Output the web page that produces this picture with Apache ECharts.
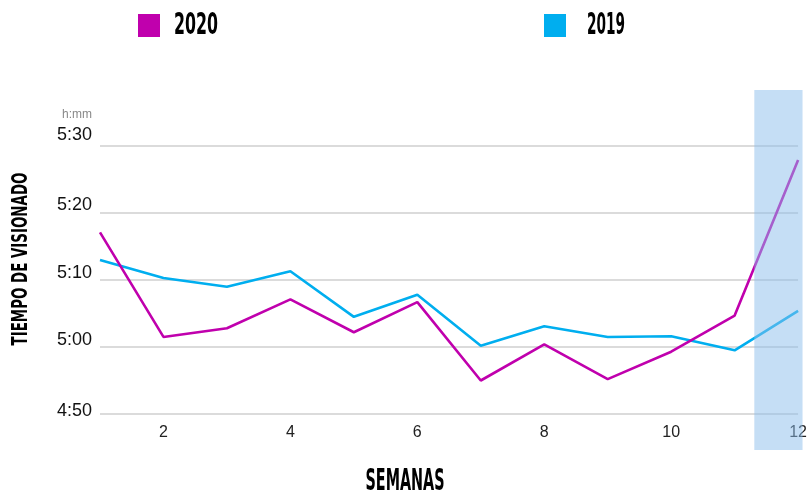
<!DOCTYPE html>
<html>
<head>
<meta charset="utf-8">
<script src="https://cdn.jsdelivr.net/npm/echarts@6/dist/echarts.min.js"></script>
<style>
  html, body { margin: 0; padding: 0; background: #fff; }
  #chart { width: 810px; height: 494px; }
</style>
</head>
<body>
<div id="chart"></div>
<script>
// ---- data ----
const weeks = [1, 2, 3, 4, 5, 6, 7, 8, 9, 10, 11, 12];
// viewing time in minutes (h:mm)
const series2020 = [317.1, 301.5, 302.8, 307.1, 302.2, 306.7, 295.0, 300.4, 295.2, 299.3, 304.7, 327.9];
const series2019 = [313.0, 310.3, 309.0, 311.3, 304.5, 307.8, 300.2, 303.1, 301.5, 301.6, 299.5, 305.4];
const seriesNames = ['2020', '2019'];
const yTicks = [290, 300, 310, 320, 330];
const highlightWeeks = [11.31, 12.07];
const xTitle = 'SEMANAS';
const yTitle = 'TIEMPO DE VISIONADO';
const yUnit = 'h:mm';

// ---- styles ----
const COND = "'Liberation Sans Narrow', 'DejaVu Sans Condensed', sans-serif";
const REG = "'Liberation Sans', Arial, sans-serif";
const C2020 = '#c000ad';
const C2019 = '#00aeef';

function fmt(v) {
  const h = Math.floor(v / 60), m = Math.round(v % 60);
  return h + ':' + (m < 10 ? '0' + m : m);
}
function measure(text, size) {
  const c = document.createElement('canvas').getContext('2d');
  c.font = 'bold ' + size + 'px ' + COND;
  return c.measureText(text).width;
}
// label lift per tick (labels sit slightly above their grid lines)
const lift = {290: 6, 300: 14, 310: 14, 320: 16, 330: 22};

const chart = echarts.init(document.getElementById('chart'), null, {renderer: 'canvas'});
const yMin = yTicks[0], yMax = yTicks[yTicks.length - 1];

const legendBase = {
  icon: 'rect', itemWidth: 22, itemHeight: 23, top: 9,
  formatter: () => '', textStyle: {fontSize: 1}
};

const option = {
  animation: false,
  backgroundColor: '#fff',
  grid: {left: 100, right: 10, top: 146, bottom: 80, containLabel: false},
  legend: [
    Object.assign({data: [seriesNames[0]], left: 133}, legendBase),
    Object.assign({data: [seriesNames[1]], left: 539}, legendBase)
  ],
  xAxis: {
    type: 'value', min: weeks[0], max: weeks[weeks.length - 1], interval: 1,
    axisLine: {show: false}, axisTick: {show: false}, splitLine: {show: false},
    axisLabel: {
      margin: 11, color: '#222', fontFamily: REG, fontSize: 16,
      formatter: v => (v % 2 === 0 ? String(v) : '')
    }
  },
  yAxis: {
    type: 'value', min: yMin, max: yMax, interval: 10,
    name: yUnit, nameLocation: 'end', nameGap: 31,
    nameTextStyle: {color: '#888', fontFamily: REG, fontSize: 12, align: 'right', verticalAlign: 'middle', padding: [0, 8, 0, 0]},
    axisLine: {show: false}, axisTick: {show: false},
    splitLine: {lineStyle: {color: '#cfcfcf', width: 1.5}},
    axisLabel: {
      margin: 8, color: '#111', fontFamily: REG, fontSize: 18,
      formatter: v => '{l' + v + '|' + fmt(v) + '}',
      rich: Object.fromEntries(yTicks.map(t => ['l' + t, {fontFamily: REG, fontSize: 18, color: '#111', padding: [0, 0, lift[t], 0]}]))
    }
  },
  series: [
    {
      name: seriesNames[0], type: 'line', data: weeks.map((w, i) => [w, series2020[i]]),
      showSymbol: false, symbol: 'none', lineStyle: {color: C2020, width: 2.6}, itemStyle: {color: C2020}, z: 3
    },
    {
      name: seriesNames[1], type: 'line', data: weeks.map((w, i) => [w, series2019[i]]),
      showSymbol: false, symbol: 'none', lineStyle: {color: C2019, width: 2.6}, itemStyle: {color: C2019}, z: 2
    }
  ]
};
chart.setOption(option);

// decorations placed relative to the grid
const pL = chart.convertToPixel({gridIndex: 0}, [highlightWeeks[0], yMax]);
const pR = chart.convertToPixel({gridIndex: 0}, [highlightWeeks[1], yMin]);
const gridTop = pL[1], gridBottom = pR[1];

function condText(text, x, y, size, targetW, extra) {
  return Object.assign({
    type: 'text', x: x, y: y, scaleX: targetW / measure(text, size), silent: true,
    style: {text: text, fontFamily: COND, fontWeight: 'bold', fontSize: size, fill: '#000', align: 'center', verticalAlign: 'middle'}
  }, extra || {});
}

chart.setOption({
  graphic: [
    {
      type: 'rect', z: 100, silent: true,
      shape: {x: pL[0], y: gridTop - 56, width: pR[0] - pL[0], height: (gridBottom + 36) - (gridTop - 56)},
      style: {fill: 'rgba(140,190,235,0.5)'}
    },
    condText(seriesNames[0], 196, 26, 31, 44),
    condText(seriesNames[1], 606, 26, 31, 38),
    condText(xTitle, 405, 482, 31, 79),
    condText(yTitle, 21, 259, 22, 173, {rotation: Math.PI / 2})
  ]
});
</script>
</body>
</html>
